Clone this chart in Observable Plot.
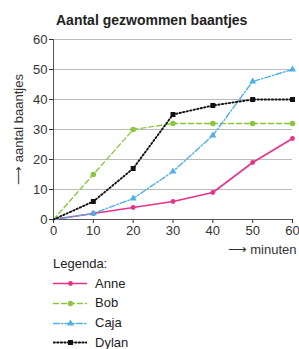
<!DOCTYPE html>
<html><head><meta charset="utf-8">
<script src="https://cdn.jsdelivr.net/npm/d3@7"></script>
<script src="https://cdn.jsdelivr.net/npm/@observablehq/plot@0.6"></script>
<style>
body{margin:0;background:#fff;font-family:"Liberation Sans",Arial,sans-serif;color:#222;}
#title{height:30px;line-height:40px;font-weight:bold;font-size:14px;padding-left:56px;white-space:nowrap;}
#chart svg{overflow:visible;display:block;}
#legend{font-size:13px;padding-left:53px;}
.row{height:19.6px;display:flex;align-items:center;}
.row svg{margin-right:8px;}
</style></head><body>
<div id="title">Aantal gezwommen baantjes</div>
<div id="chart"></div>
<div id="legend"></div>
<script>
const minuten = [0, 10, 20, 30, 40, 50, 60];
const names = ["Anne", "Bob", "Caja", "Dylan"];
const anne = [0, 2, 4, 6, 9, 19, 27];
const bob = [0, 15, 30, 32, 32, 32, 32];
const caja = [0, 2, 7, 16, 28, 46, 50];
const dylan = [0, 6, 17, 35, 38, 40, 40];
const yTicks = [0, 10, 20, 30, 40, 50, 60];
const colors = ["#e5338a", "#8cc63f", "#4db0e6", "#111111"];
const dashes = ["none", "5,3", "6,2,1.5,2", "1.4,2.2"];
const symbols = ["circle", "circle", "triangle", "square"];
const widths = [1.6, 1.4, 1.4, 1.9];
const sizes = [2.4, 2.8, 2.6, 2.8];

const series = [anne, bob, caja, dylan];
const data = [];
series.forEach((vals, i) => vals.forEach((v, j) => data.push({name: names[i], t: minuten[j], v})));

const marks = [
  Plot.gridY(yTicks.filter(d => d > 0), {stroke: "#bbb", strokeOpacity: 1, strokeWidth: 1}),
  Plot.axisY({ticks: yTicks, tickSize: 4, tickPadding: 2, label: "⟶ aantal baantjes", labelArrow: false, labelAnchor: "center", labelOffset: 40}),
  Plot.axisX({ticks: minuten, tickSize: 4, tickPadding: 2, label: "⟶ minuten", labelArrow: false, labelAnchor: "right", labelOffset: 34}),
  Plot.ruleX([0], {stroke: "#555"}),
  Plot.ruleY([0], {stroke: "#555"})
];
names.forEach((n, i) => {
  const d = data.filter(r => r.name === n);
  marks.push(Plot.line(d, {x: "t", y: "v", stroke: colors[i], strokeWidth: widths[i], strokeDasharray: dashes[i]}));
});
names.forEach((n, i) => {
  const d = data.filter(r => r.name === n && r.t > 0);
  marks.push(Plot.dot(d, {x: "t", y: "v", fill: colors[i], symbol: symbols[i], r: sizes[i]}));
});

const chart = Plot.plot({
  width: 299, height: 224,
  marginTop: 9, marginBottom: 35, marginLeft: 53, marginRight: 7,
  style: {fontSize: "13px", fontFamily: "Liberation Sans, Arial, sans-serif", color: "#333", background: "white"},
  x: {domain: [0, 60]},
  y: {domain: [0, 60]},
  marks
});
document.getElementById("chart").appendChild(chart);

const leg = document.getElementById("legend");
const head = document.createElement("div");
head.className = "row"; head.textContent = "Legenda:";
leg.appendChild(head);
names.forEach((n, i) => {
  const row = document.createElement("div");
  row.className = "row";
  const sample = Plot.plot({
    width: 34, height: 10, margin: 0, axis: null,
    x: {domain: [0, 2]}, y: {domain: [0, 1]},
    marks: [
      Plot.line([{a: 0, b: 0.5}, {a: 2, b: 0.5}], {x: "a", y: "b", stroke: colors[i], strokeWidth: widths[i], strokeDasharray: dashes[i]}),
      Plot.dot([{a: 1, b: 0.5}], {x: "a", y: "b", fill: colors[i], symbol: symbols[i], r: sizes[i]})
    ]
  });
  row.appendChild(sample);
  const s = document.createElement("span");
  s.textContent = n;
  row.appendChild(s);
  leg.appendChild(row);
});
</script>
</body></html>
